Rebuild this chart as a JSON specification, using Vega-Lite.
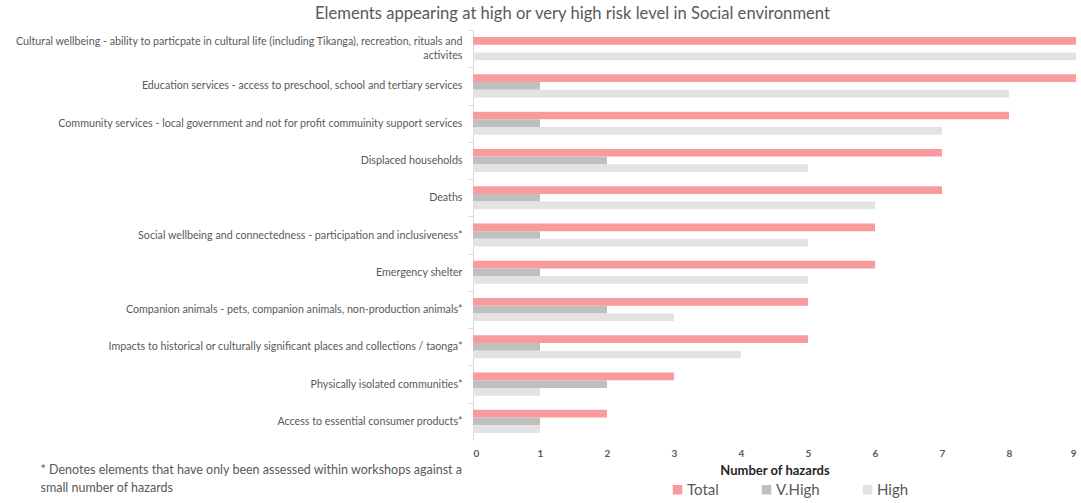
{
  "$schema": "https://vega.github.io/schema/vega-lite/v6.json",
  "width": 603,
  "height": 410,
  "autosize": "none",
  "padding": {"left": 473, "top": 30, "right": 5, "bottom": 63},
  "background": "white",
  "config": {"font": "Lato", "view": {"stroke": null}},
  "title": {
    "text": "Elements appearing at high or very high risk level in Social environment",
    "fontSize": 16.6,
    "fontWeight": "normal",
    "color": "#595959",
    "anchor": "middle",
    "frame": "group",
    "dx": -202,
    "offset": 7
  },
  "data": {
    "values": [
      {"element": "Cultural wellbeing - ability to particpate in cultural life (including Tikanga), recreation, rituals and activites", "series": "Total", "value": 9},
      {"element": "Cultural wellbeing - ability to particpate in cultural life (including Tikanga), recreation, rituals and activites", "series": "V.High", "value": 0},
      {"element": "Cultural wellbeing - ability to particpate in cultural life (including Tikanga), recreation, rituals and activites", "series": "High", "value": 9},
      {"element": "Education services - access to preschool, school and tertiary services", "series": "Total", "value": 9},
      {"element": "Education services - access to preschool, school and tertiary services", "series": "V.High", "value": 1},
      {"element": "Education services - access to preschool, school and tertiary services", "series": "High", "value": 8},
      {"element": "Community services - local government and not for profit commuinity support services", "series": "Total", "value": 8},
      {"element": "Community services - local government and not for profit commuinity support services", "series": "V.High", "value": 1},
      {"element": "Community services - local government and not for profit commuinity support services", "series": "High", "value": 7},
      {"element": "Displaced households", "series": "Total", "value": 7},
      {"element": "Displaced households", "series": "V.High", "value": 2},
      {"element": "Displaced households", "series": "High", "value": 5},
      {"element": "Deaths", "series": "Total", "value": 7},
      {"element": "Deaths", "series": "V.High", "value": 1},
      {"element": "Deaths", "series": "High", "value": 6},
      {"element": "Social wellbeing and connectedness - participation and inclusiveness*", "series": "Total", "value": 6},
      {"element": "Social wellbeing and connectedness - participation and inclusiveness*", "series": "V.High", "value": 1},
      {"element": "Social wellbeing and connectedness - participation and inclusiveness*", "series": "High", "value": 5},
      {"element": "Emergency shelter", "series": "Total", "value": 6},
      {"element": "Emergency shelter", "series": "V.High", "value": 1},
      {"element": "Emergency shelter", "series": "High", "value": 5},
      {"element": "Companion animals - pets, companion animals, non-production animals*", "series": "Total", "value": 5},
      {"element": "Companion animals - pets, companion animals, non-production animals*", "series": "V.High", "value": 2},
      {"element": "Companion animals - pets, companion animals, non-production animals*", "series": "High", "value": 3},
      {"element": "Impacts to historical or culturally significant places and collections / taonga*", "series": "Total", "value": 5},
      {"element": "Impacts to historical or culturally significant places and collections / taonga*", "series": "V.High", "value": 1},
      {"element": "Impacts to historical or culturally significant places and collections / taonga*", "series": "High", "value": 4},
      {"element": "Physically isolated communities*", "series": "Total", "value": 3},
      {"element": "Physically isolated communities*", "series": "V.High", "value": 2},
      {"element": "Physically isolated communities*", "series": "High", "value": 1},
      {"element": "Access to essential consumer products*", "series": "Total", "value": 2},
      {"element": "Access to essential consumer products*", "series": "V.High", "value": 1},
      {"element": "Access to essential consumer products*", "series": "High", "value": 1}
    ]
  },
  "mark": {"type": "bar"},
  "encoding": {
    "y": {
      "field": "element",
      "type": "nominal",
      "sort": null,
      "scale": {"paddingInner": 0.38, "paddingOuter": 0.19},
      "axis": {
        "title": ["* Denotes elements that have only been assessed within workshops against a", "small number of hazards"],
        "titleAngle": 0,
        "titleAlign": "left",
        "titleBaseline": "top",
        "titleX": -433,
        "titleY": 433,
        "titleFontSize": 12.5,
        "titleFontWeight": "normal",
        "titleColor": "#595959",
        "titleLineHeight": 18,
        "labelExpr": "indexof(datum.value, 'Cultural') == 0 ? ['Cultural wellbeing - ability to particpate in cultural life (including Tikanga), recreation, rituals and', 'activites'] : datum.value",
        "labelFontSize": 10.7,
        "labelColor": "#595959",
        "labelLimit": 480,
        "labelPadding": 6,
        "labelLineHeight": 14,
        "tickOffset": -18.64,
        "labelOffset": {"condition": {"test": "indexof(datum.value, 'Cultural') == 0", "value": 11.6}, "value": 18.64},
        "domainColor": "#D9D9D9",
        "tickColor": "#D9D9D9",
        "tickSize": 5,
        "grid": false
      }
    },
    "yOffset": {
      "field": "series",
      "type": "nominal",
      "sort": ["Total", "V.High", "High"],
      "scale": {"paddingInner": 0, "paddingOuter": 0}
    },
    "x": {
      "field": "value",
      "type": "quantitative",
      "scale": {"domain": [0, 9], "nice": false},
      "axis": {
        "values": [0, 1, 2, 3, 4, 5, 6, 7, 8, 9],
        "domain": false,
        "ticks": false,
        "grid": false,
        "labelFontWeight": "bold",
        "labelFontSize": 10,
        "labelColor": "#595959",
        "labelPadding": 8,
        "title": "Number of hazards",
        "titleFontSize": 13,
        "titleFontWeight": "bold",
        "titleColor": "#262626",
        "titlePadding": 6
      }
    },
    "color": {
      "field": "series",
      "type": "nominal",
      "sort": ["Total", "V.High", "High"],
      "scale": {"domain": ["Total", "V.High", "High"], "range": ["#F99A9C", "#BFBFBF", "#E3E3E3"]},
      "legend": {
        "orient": "none",
        "legendX": 197,
        "legendY": 452,
        "direction": "horizontal",
        "title": null,
        "symbolType": "square",
        "symbolSize": 90,
        "symbolStrokeWidth": 0,
        "labelFontSize": 15,
        "labelColor": "#595959",
        "labelOffset": 2,
        "columnPadding": 40
      }
    }
  }
}
